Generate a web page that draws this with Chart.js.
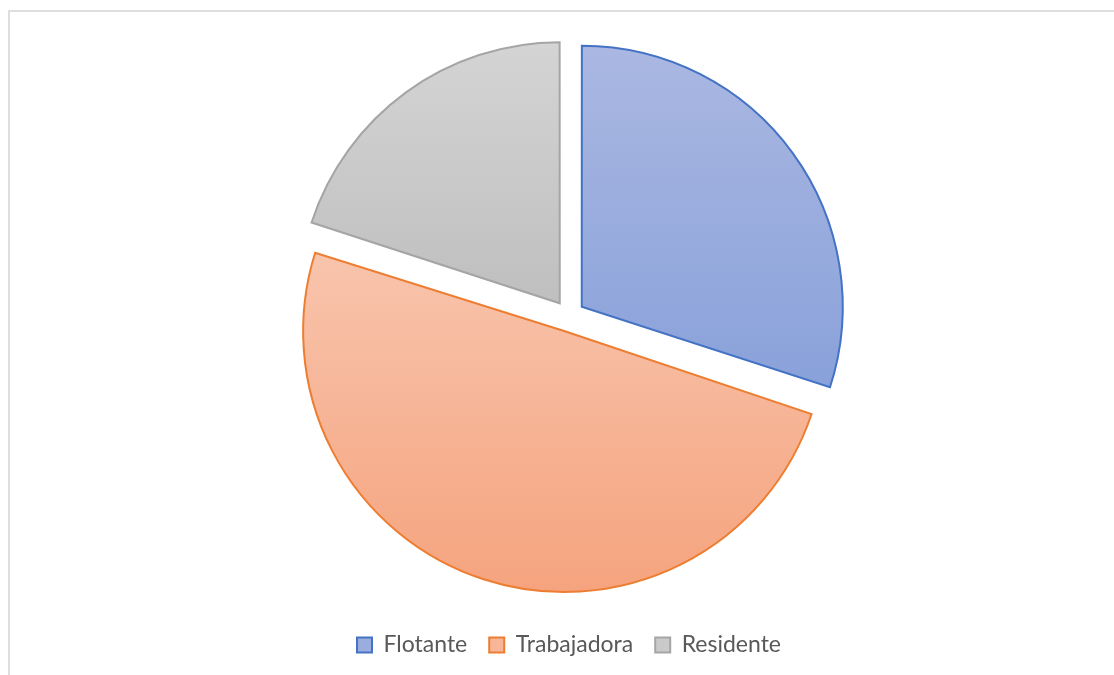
<!DOCTYPE html>
<html>
<head>
<meta charset="utf-8">
<script src="https://cdn.jsdelivr.net/npm/chart.js@4"></script>
<style>
    html, body { margin: 0; padding: 0; background: #ffffff; }
    #wrap { position: relative; width: 1114px; height: 675px; overflow: hidden; }
    #frame {
        position: absolute; left: 8px; top: 10px; width: 1200px; height: 800px;
        border-left: 2px solid #dedede; border-top: 2px solid #dedede;
    }
    #chart { position: absolute; left: 0; top: 0; }
</style>
</head>
<body>
<div id="wrap">
    <div id="frame"></div>
    <canvas id="chart" width="1114" height="675"></canvas>
</div>
<script>
"use strict";

// data (percent of the whole)
const categories = ["Flotante", "Trabajadora", "Residente"];
const shares = [30, 50, 20];

const borderColors = ["#4472c4", "#ed7d31", "#a5a5a5"];
const legendFills = ["#9badde", "#f7b698", "#cacaca"];
const gradTop = ["#abb8e2", "#f8c3ab", "#d5d5d5"];
const gradBottom = ["#8aa2da", "#f5a27c", "#c0c0c0"];

const pieRadius = 261;
const explode = 63; // chart.js moves slice by offset / 4

function angleInside(a, s, e) {
    let t = a;
    while (t < s) t += Math.PI * 2;
    while (t >= s + Math.PI * 2) t -= Math.PI * 2;
    return t <= e;
}

// excel-like slices: same radius for every slice, vertical gradient per slice
const slicePlugin = {
    id: "slices",
    beforeDatasetsDraw(chart) {
        const meta = chart.getDatasetMeta(0);
        const ctx = chart.ctx;
        meta.data.forEach(function(el, i) {
            const off = (el.options.offset || 0) / 4;
            const fix = 1 - Math.sin(Math.min(Math.PI, el.circumference || 0));
            el.outerRadius = meta.controller.outerRadius - off * fix;

            const mid = (el.startAngle + el.endAngle) / 2;
            const cy = el.y + Math.sin(mid) * off;
            const r = meta.controller.outerRadius;
            let ys = [cy, cy + Math.sin(el.startAngle) * r, cy + Math.sin(el.endAngle) * r];
            if (angleInside(Math.PI / 2, el.startAngle, el.endAngle)) ys.push(cy + r);
            if (angleInside(-Math.PI / 2, el.startAngle, el.endAngle)) ys.push(cy - r);
            const g = ctx.createLinearGradient(0, Math.min.apply(null, ys), 0, Math.max.apply(null, ys));
            g.addColorStop(0, gradTop[i]);
            g.addColorStop(1, gradBottom[i]);
            el.options.backgroundColor = g;
        });
    }
};

const chart = new Chart(document.getElementById("chart"), {
    type: "pie",
    data: {
        labels: categories,
        datasets: [{
            data: shares,
            backgroundColor: legendFills,
            borderColor: borderColors,
            borderWidth: 2,
            borderJoinStyle: "miter",
            offset: explode
        }]
    },
    options: {
        responsive: false,
        animation: false,
        radius: pieRadius,
        layout: {
            padding: { top: 20.5, bottom: 8.5, left: 24, right: 0 }
        },
        plugins: {
            legend: {
                position: "bottom",
                labels: {
                    boxWidth: 15,
                    boxHeight: 15,
                    padding: 22,
                    color: "#595959",
                    font: { family: "Lato", size: 23 }
                }
            },
            tooltip: { enabled: false }
        }
    },
    plugins: [slicePlugin]
});
</script>
</body>
</html>
